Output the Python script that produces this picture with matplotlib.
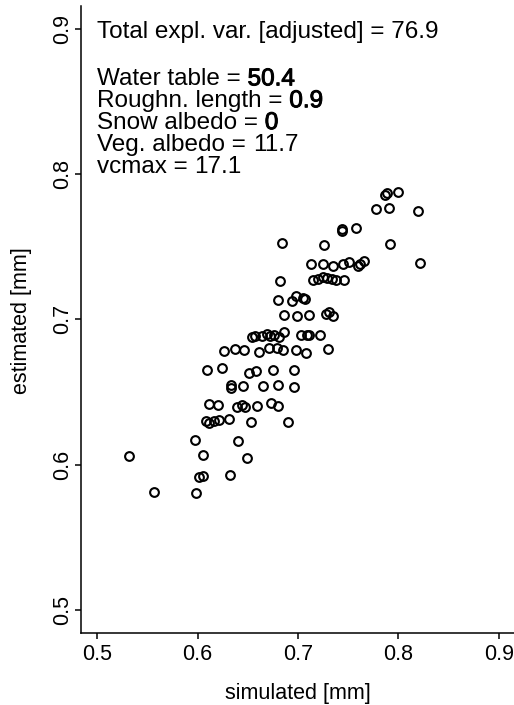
import matplotlib
matplotlib.use("Agg")
import matplotlib.pyplot as plt
import matplotlib.patheffects as pe
import numpy as np

plt.rcParams['font.family'] = ['Liberation Sans', 'DejaVu Sans']

# simulated vs estimated values
simulated = [0.787, 0.789, 0.800, 0.778, 0.791, 0.819, 0.7435, 0.7435, 0.758,
             0.6845, 0.726, 0.792,
             0.713, 0.725, 0.735, 0.7445, 0.751, 0.760, 0.762, 0.766, 0.821,
             0.682, 0.715, 0.720, 0.725, 0.729, 0.734, 0.738, 0.746,
             0.680, 0.694, 0.698, 0.705, 0.707,
             0.686, 0.699, 0.711, 0.728, 0.731, 0.735,
             0.654, 0.657, 0.664, 0.669, 0.672, 0.6765, 0.6815, 0.6865, 0.703, 0.709, 0.711, 0.722,
             0.6265, 0.637, 0.646, 0.661, 0.671, 0.679, 0.6855, 0.698, 0.708, 0.7296,
             0.6096, 0.624, 0.651, 0.658, 0.675, 0.696,
             0.6335, 0.6335, 0.645, 0.6656, 0.680, 0.6964,
             0.6116, 0.620, 0.639, 0.644, 0.647, 0.6596, 0.673, 0.680,
             0.608, 0.611, 0.616, 0.6216, 0.631, 0.6534, 0.690,
             0.597, 0.640,
             0.5314, 0.605, 0.649,
             0.6017, 0.6057, 0.6328,
             0.5563, 0.5987]
estimated = [0.786, 0.787, 0.788, 0.776, 0.777, 0.775, 0.762, 0.761, 0.763,
             0.7526, 0.751, 0.752,
             0.738, 0.738, 0.737, 0.738, 0.7395, 0.7365, 0.738, 0.7404, 0.739,
             0.7267, 0.7273, 0.7278, 0.7289, 0.7285, 0.7278, 0.7273, 0.7269,
             0.7136, 0.7124, 0.7158, 0.7147, 0.714,
             0.7032, 0.702, 0.7032, 0.7039, 0.7051, 0.7026,
             0.6876, 0.6883, 0.6883, 0.690, 0.6888, 0.689, 0.6879, 0.6913, 0.689, 0.6895, 0.6895, 0.6895,
             0.678, 0.6796, 0.6788, 0.6778, 0.680, 0.6805, 0.6791, 0.6791, 0.6769, 0.6796,
             0.6654, 0.6663, 0.6633, 0.6642, 0.6654, 0.6649,
             0.655, 0.6528, 0.6543, 0.6539, 0.655, 0.6534,
             0.6417, 0.6408, 0.6397, 0.6413, 0.6397, 0.6406, 0.6424, 0.6401,
             0.6302, 0.6286, 0.6302, 0.6304, 0.6314, 0.6291, 0.6291,
             0.6171, 0.6165,
             0.6057, 0.6063, 0.6048,
             0.5915, 0.5924, 0.5928,
             0.5811, 0.5804]

ticks = [0.5, 0.6, 0.7, 0.8, 0.9]
total_text = "Total expl. var. [adjusted] = 76.9"
factor_names = ["Water table", "Roughn. length", "Snow albedo", "Veg. albedo", "vcmax"]
factor_values = ["50.4", "0.9", "0", "11.7", "17.1"]
factor_bold = [True, True, True, False, False]

fig = plt.figure(figsize=(5.14, 7.05), dpi=100)
ax = fig.add_axes([81/514, 72/705, 434/514, 627.2/705])

ax.plot(simulated, estimated, 'o', mfc='none', mec='black', ms=6.3, mew=1.5, clip_on=False)

ax.set_xlim(0.484, 0.916)
ax.set_ylim(0.484, 0.916)
ax.set_xticks(ticks)
ax.set_yticks(ticks)
ax.set_xticklabels([str(t) for t in ticks])
ax.set_yticklabels([str(t) for t in ticks])
for s in ['top', 'right']:
    ax.spines[s].set_visible(False)
for s in ['left', 'bottom']:
    ax.spines[s].set_linewidth(1.1)
ax.tick_params(axis='both', direction='out', length=4.5, width=1.1, labelsize=15.5)
ax.tick_params(axis='x', pad=3.5)
ax.tick_params(axis='y', pad=1.5, labelrotation=90)
for lab in ax.get_yticklabels():
    lab.set_va('center')

# annotation text
fs = 17.5
ax.text(0.5, 0.8938, total_text, fontsize=fs, ha='left', va='baseline')
y0 = 0.8612
dy = 0.01508
heavy = [pe.withStroke(linewidth=0.7, foreground='black')]
for i, (nm, val, b) in enumerate(zip(factor_names, factor_values, factor_bold)):
    t = ax.text(0.5, y0 - i*dy, nm + " = ", fontsize=fs, ha='left', va='baseline')
    ax.annotate(val, xy=(1, 0), xycoords=t, ha='left', va='bottom', fontsize=fs,
                path_effects=heavy if b else None)

fig.text(298/514, 1 - 693/705, "simulated [mm]", fontsize=15.5, ha='center', va='center')
fig.text(22/514, 1 - 321/705, "estimated [mm]", fontsize=15.5, ha='center', va='center', rotation=90)

fig.savefig("out.png", dpi=100)
